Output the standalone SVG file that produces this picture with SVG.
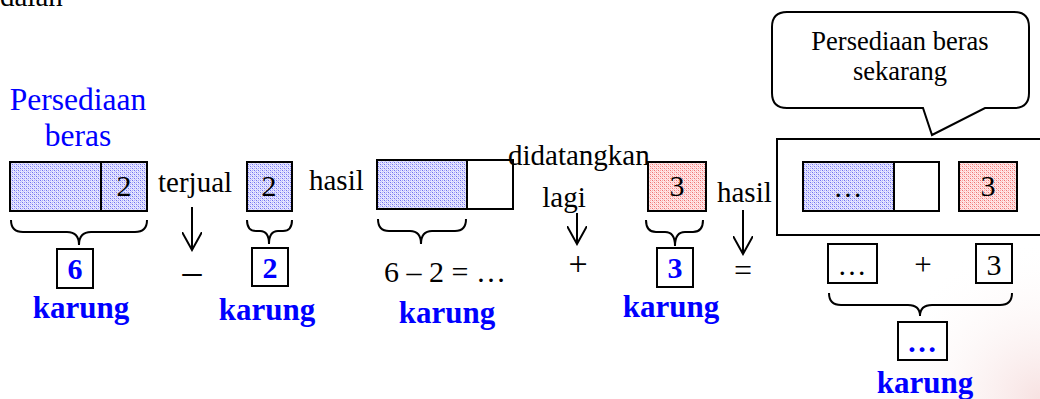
<svg xmlns="http://www.w3.org/2000/svg" width="1040" height="399" viewBox="0 0 1040 399">
<style>
text{font-family:"Liberation Serif","Times New Roman",serif}
.t{fill:#000;font-size:29px}
.d{font-size:30px}
.op{font-size:34px}
.c{text-anchor:middle}
.blue{fill:#0000ff;font-size:31.5px}
.cl{font-size:26.5px}
.k{fill:#0000ff;font-size:31px;font-weight:bold;text-anchor:middle}
.bn{fill:#0000ff;font-size:30px;font-weight:bold;text-anchor:middle}
.box{fill:#fff;stroke:#000;stroke-width:2}
.bl{fill:url(#pb);stroke:#000;stroke-width:2}
.rd{fill:url(#pr);stroke:#000;stroke-width:2}
.ln{fill:none;stroke:#000;stroke-width:2}
.arr{fill:none;stroke:#000;stroke-width:2;marker-end:url(#v)}
</style>
<defs>
<pattern id="pb" width="4" height="4" patternUnits="userSpaceOnUse">
<rect width="4" height="4" fill="#e6e6ff"/>
<rect width="1" height="1" fill="#6f6ff0"/>
<rect x="2" y="2" width="1" height="1" fill="#6f6ff0"/>
<rect x="2" y="0" width="1" height="1" fill="#a8a8f8"/>
<rect x="0" y="2" width="1" height="1" fill="#a8a8f8"/>
<rect x="1" y="1" width="1" height="1" fill="#c4c4fb"/>
<rect x="3" y="3" width="1" height="1" fill="#c4c4fb"/>
</pattern>
<pattern id="pr" width="4" height="4" patternUnits="userSpaceOnUse">
<rect width="4" height="4" fill="#ffe6e6"/>
<rect width="1" height="1" fill="#f07070"/>
<rect x="2" y="2" width="1" height="1" fill="#f07070"/>
<rect x="2" y="0" width="1" height="1" fill="#f8a8a8"/>
<rect x="0" y="2" width="1" height="1" fill="#f8a8a8"/>
<rect x="1" y="1" width="1" height="1" fill="#fbc4c4"/>
<rect x="3" y="3" width="1" height="1" fill="#fbc4c4"/>
</pattern>
<radialGradient id="pink" cx="1040" cy="399" r="160" gradientUnits="userSpaceOnUse">
<stop offset="0" stop-color="#f6dede" stop-opacity="0.9"/>
<stop offset="1" stop-color="#ffffff" stop-opacity="0"/>
</radialGradient>
<marker id="v" viewBox="0 0 20 20" refX="18" refY="10" markerWidth="20" markerHeight="20" markerUnits="userSpaceOnUse" orient="auto">
<path d="M0,0 L18,10 L0,20" fill="none" stroke="#000" stroke-width="2"/>
</marker>
</defs>
<rect width="1040" height="399" fill="#fff"/>
<rect width="1040" height="399" fill="url(#pink)"/>
<text class="t" x="0" y="6">dalan</text>

<g id="persediaan-label">
<text class="t c blue" x="78" y="110">Persediaan</text>
<text class="t c blue" x="78" y="146">beras</text>
</g>

<g id="stock-bar">
<rect class="bl" x="10" y="162" width="137" height="49"/>
<line class="ln" x1="101" y1="162" x2="101" y2="211"/>
<text class="t c d" x="124" y="196">2</text>
</g>
<g id="six-karung">
<rect class="box" x="57" y="249" width="36" height="39"/>
<text class="bn" x="75" y="279">6</text>
<text class="k" x="81" y="318">karung</text>
</g>

<g id="terjual">
<text class="t" x="158" y="192">terjual</text>
<text class="t c" x="192" y="284" style="font-size:38px">–</text>
</g>

<g id="sold-bar">
<rect class="bl" x="247" y="162" width="45" height="49"/>
<text class="t c d" x="269" y="196">2</text>
</g>
<g id="two-karung">
<rect class="box" x="252" y="248" width="36" height="38"/>
<text class="bn" x="270" y="278">2</text>
<text class="k" x="267" y="320">karung</text>
</g>

<g id="hasil1">
<text class="t" x="309" y="190">hasil</text>
</g>

<g id="remain-bar">
<rect class="bl" x="377" y="160" width="90" height="49"/>
<rect class="box" x="467" y="160" width="46" height="49"/>
</g>
<g id="remain-calc">
<text class="t d" x="384" y="282">6 – 2 = …</text>
<text class="k" x="447" y="323">karung</text>
</g>

<g id="didatangkan">
<text class="t" x="508" y="165">didatangkan</text>
<text class="t c" x="564" y="207">lagi</text>
<text class="t c op" x="578" y="275">+</text>
</g>

<g id="new-bar">
<rect class="rd" x="648" y="162" width="58" height="49"/>
<text class="t c d" x="677" y="196">3</text>
</g>
<g id="three-karung">
<rect class="box" x="657" y="248" width="36" height="39"/>
<text class="bn" x="675" y="278">3</text>
<text class="k" x="671" y="317">karung</text>
</g>

<g id="hasil2">
<text class="t" x="717" y="202">hasil</text>
<text class="t c" x="743" y="281" style="font-size:32px">=</text>
</g>

<g id="callout">
<path class="box" d="M787,12 L1014,12 Q1029,12 1029,27 L1029,93 Q1029,108 1014,108 L985,108 L932,135 L923,108 L787,108 Q772,108 772,93 L772,27 Q772,12 787,12 Z"/>
<text class="t c cl" x="900" y="50">Persediaan beras</text>
<text class="t c cl" x="900" y="80">sekarang</text>
</g>

<g id="result">
<rect class="box" x="777" y="139" width="266" height="96"/>
<rect class="bl" x="803" y="162" width="91" height="49"/>
<rect class="box" x="894" y="162" width="45" height="49"/>
<text class="t c" x="848" y="197">…</text>
<rect class="rd" x="959" y="162" width="58" height="49"/>
<text class="t c d" x="988" y="196">3</text>
</g>

<g id="result-sum">
<rect class="box" x="828" y="244" width="49" height="39"/>
<text class="t c" x="852" y="275">…</text>
<text class="t c" x="923" y="275" style="font-size:31px">+</text>
<rect class="box" x="976" y="244" width="36" height="39"/>
<text class="t c d" x="994" y="275">3</text>
</g>

<g id="total-karung">
<rect class="box" x="898" y="322" width="49" height="38"/>
<text class="bn" x="922" y="352">…</text>
<text class="k" x="925" y="393">karung</text>
</g>

<g id="connectors">
<path class="ln" d="M11,220 Q11,232 23,232 L67,232 Q79,232 79,245 Q79,232 91,232 L135,232 Q147,232 147,220"/>
<path class="ln" d="M247,220 Q247,231 256,231 L260,231 Q269,231 269,244 Q269,231 278,231 L283,231 Q292,231 292,220"/>
<path class="ln" d="M378,219 Q378,231 389,231 L410,231 Q421,231 421,244 Q421,231 432,231 L455,231 Q466,231 466,219"/>
<path class="ln" d="M646,220 Q646,232 656,232 L665,232 Q675,232 675,246 Q675,232 685,232 L693,232 Q703,232 703,220"/>
<path class="ln" d="M829,293 Q829,305 841,305 L908,305 Q920,305 920,316 Q920,305 932,305 L1000,305 Q1012,305 1012,293"/>
<line class="arr" x1="192" y1="207" x2="192" y2="250"/>
<line class="arr" x1="577" y1="213" x2="577" y2="244"/>
<line class="arr" x1="743" y1="210" x2="743" y2="254"/>
</g>
</svg>
